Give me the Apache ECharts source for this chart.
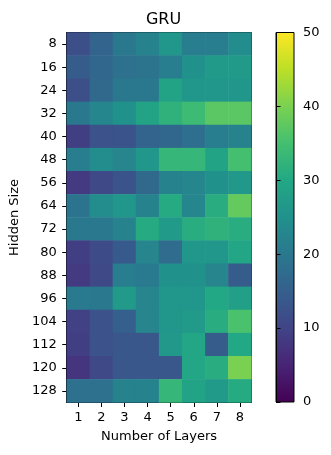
<!DOCTYPE html>
<html lang="en">
<head>
    <meta charset="UTF-8">
    <script src="https://cdn.jsdelivr.net/npm/echarts@6/dist/echarts.min.js"></script>
    <title>GRU</title>
    <style>
        html, body { margin: 0; padding: 0; background: #fff; }
        #container { width: 331px; height: 455px; }
    </style>
</head>
<body>
<div id="container"></div>
<script type="application/javascript">
    const layers = ['1', '2', '3', '4', '5', '6', '7', '8'];
    const hiddenSizes = ['8', '16', '24', '32', '40', '48', '56', '64', '72', '80', '88', '96', '104', '112', '120', '128'];
    // one row per hidden size, one value per layer count
    const gruValues = [
        [12, 16, 20, 22, 26, 21, 21, 24],
        [14.5, 16.5, 18.5, 19, 21, 25, 27, 27],
        [12, 17, 20, 20, 29, 26, 26, 26],
        [20, 23, 25, 29, 32, 34, 37, 37],
        [9, 12.5, 13, 16, 16.5, 18, 21, 22],
        [21, 24, 22.5, 26, 33, 33, 29, 35],
        [8.5, 11, 13, 17, 22, 23, 25, 26.5],
        [19, 24, 26, 22, 30.5, 23, 31, 38],
        [20, 20, 22, 30.5, 27, 31, 32, 31],
        [9, 11.5, 14, 22.5, 17.5, 26, 26, 29.5],
        [8.5, 11, 21, 20.5, 25, 25, 22.5, 14.5],
        [20.5, 20, 27, 22.5, 26, 26, 30, 28],
        [9.5, 12.5, 15, 22.5, 26, 27, 31, 35.5],
        [9, 12.5, 13.5, 13.5, 26.5, 29.5, 14.5, 30],
        [7.5, 11, 13.5, 13.5, 13.5, 29.5, 31, 40],
        [18.5, 18.5, 22, 22, 33, 29, 27, 30.5]
    ];
    const colorTicks = [0, 10, 20, 30, 40, 50];
    const viridis = ['#440154', '#482475', '#414487', '#355f8d', '#2a788e', '#21918c',
        '#22a884', '#44bf70', '#7ad151', '#bddf26', '#fde725'];

    let data = [];
    for (let r = 0; r < hiddenSizes.length; r++) {
        for (let c = 0; c < layers.length; c++) {
            data.push([c, r, gruValues[r][c]]);
        }
    }

    // gradient for the colorbar, bottom = 0, top = 50
    const barGradient = new echarts.graphic.LinearGradient(0, 1, 0, 0,
        viridis.map((col, i) => ({offset: i / (viridis.length - 1), color: col})));

    const font = 'DejaVu Sans';
    const txt = {color: '#000', fontFamily: font, fontSize: 13};

    const myChart = echarts.init(document.getElementById('container'), null, {renderer: 'canvas'});
    const option = {
        animation: false,
        backgroundColor: '#fff',
        title: {
            text: 'GRU',
            left: 158.5,
            textAlign: 'center',
            top: 7,
            textStyle: {color: '#000', fontFamily: font, fontSize: 16, fontWeight: 'normal'}
        },
        grid: [
            {left: 66.5, top: 32.5, width: 185, height: 370, show: true, borderColor: '#000', borderWidth: 1},
            {left: 276, top: 32.5, width: 18, height: 369.5, show: true, borderColor: '#000', borderWidth: 1,
                backgroundColor: barGradient}
        ],
        xAxis: [
            {
                type: 'category', gridIndex: 0, data: layers,
                name: 'Number of Layers', nameLocation: 'middle', nameGap: 28,
                nameTextStyle: txt,
                axisLine: {show: true, lineStyle: {color: '#000'}},
                axisTick: {show: true, alignWithLabel: true, length: 4.5, lineStyle: {color: '#000'}},
                axisLabel: Object.assign({margin: 9}, txt),
                splitLine: {show: false}
            },
            {type: 'value', gridIndex: 1, show: false, min: 0, max: 1}
        ],
        yAxis: [
            {
                type: 'category', gridIndex: 0, data: hiddenSizes, inverse: true,
                name: 'Hidden Size', nameLocation: 'middle', nameGap: 44,
                nameTextStyle: txt,
                axisLine: {show: true, lineStyle: {color: '#000'}},
                axisTick: {show: true, alignWithLabel: true, length: 4.5, lineStyle: {color: '#000'}},
                axisLabel: Object.assign({margin: 10}, txt),
                splitLine: {show: false}
            },
            {
                type: 'value', gridIndex: 1, position: 'right', min: colorTicks[0],
                max: colorTicks[colorTicks.length - 1], interval: 10,
                axisLine: {show: true, lineStyle: {color: '#000'}},
                axisTick: {show: true, length: 4.5, lineStyle: {color: '#000'}},
                axisLabel: Object.assign({margin: 9}, txt),
                splitLine: {show: false}
            }
        ],
        visualMap: {
            show: false, min: 0, max: 50, dimension: 2, seriesIndex: 0,
            inRange: {color: viridis}
        },
        series: [{
            type: 'heatmap', xAxisIndex: 0, yAxisIndex: 0,
            data: data,
            itemStyle: {borderWidth: 0},
            emphasis: {disabled: true}
        }]
    };
    myChart.setOption(option);
</script>
</body>
</html>
